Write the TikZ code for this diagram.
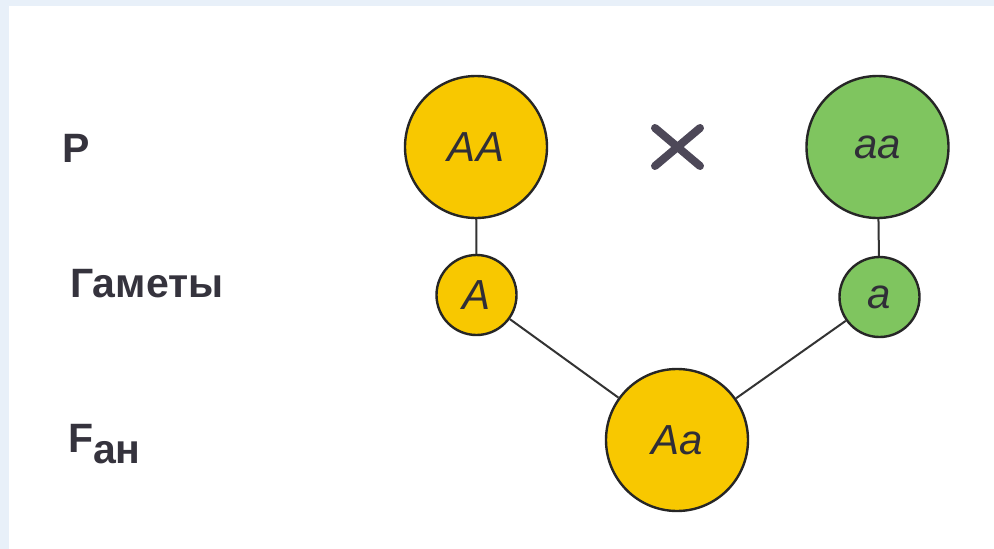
\documentclass[tikz,border=0pt]{standalone}
\usepackage{fontspec}
\setmainfont{Liberation Sans}
\definecolor{framebg}{HTML}{E8F0F9}
\definecolor{gold}{HTML}{F8C800}
\definecolor{leaf}{HTML}{7FC55F}
\definecolor{ink}{HTML}{35333D}
\definecolor{crossc}{HTML}{4D4858}
\tikzset{
  gene/.style={circle, draw=black!85, line width=2.4pt, inner sep=0pt,
    font=\fontsize{42}{42}\selectfont\itshape, text=ink!90!black},
  big/.style={gene, minimum size=142pt},
  small/.style={gene, minimum size=80pt},
  rowlabel/.style={anchor=base west, inner sep=0pt, text=ink,
    font=\fontsize{41}{41}\selectfont\bfseries},
  link/.style={line width=2pt, draw=black!80},
}
\begin{document}
\begin{tikzpicture}[x=1pt,y=-1pt]
\useasboundingbox (0,0) rectangle (994,549);
\fill[framebg] (0,0) rectangle (994,549);
\fill[white] (9,6) rectangle (994,549);

\node[rowlabel] (lp) at (62,162) {Р};
\node[rowlabel] (lg) at (70,297) {Гаметы};
\node[rowlabel] (lf) at (68,452) {F};
\node[rowlabel] (lfs) at (93,463) {ан};

\node[big, fill=gold] (AA) at (476,147) {AA};
\node[big, fill=leaf] (aa) at (877.5,147) {aa};
\node[small, fill=gold] (A) at (476.5,295) {A};
\node[small, fill=leaf] (a) at (879.5,297) {a};
\node[big, fill=gold] (Aa) at (677,440) {Aa};

\draw[link] (AA) -- (A);
\draw[link] (aa) -- (a);
\draw[link] (A) -- (Aa);
\draw[link] (a) -- (Aa);

\coordinate (x1) at (655,128);
\coordinate (x2) at (700,166);
\coordinate (x3) at (700,128);
\coordinate (x4) at (655,166);
\draw[crossc, line width=8pt, line cap=round] (x1) -- (x2);
\draw[crossc, line width=8pt, line cap=round] (x3) -- (x4);
\end{tikzpicture}
\end{document}
